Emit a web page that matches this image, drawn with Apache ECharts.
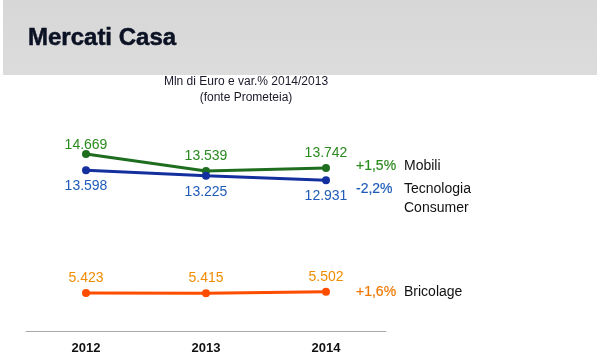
<!DOCTYPE html>
<html>
<head>
<meta charset="utf-8">
<script src="https://cdn.jsdelivr.net/npm/echarts@6/dist/echarts.min.js"></script>
<style>html,body{margin:0;padding:0;background:#fff}#c{width:600px;height:360px}</style>
</head>
<body>
<div id="c"></div>
<script>
const categories = ['2012', '2013', '2014'];
const mobili = [14669, 13539, 13742];
const tecnologia = [13598, 13225, 12931];
const bricolage = [5423, 5415, 5502];
const changes = ['+1,5%', '-2,2%', '+1,6%'];
const seriesNames = ['Mobili', 'Tecnologia Consumer', 'Bricolage'];
const titleText = 'Mercati Casa';
const subtitleText = 'Mln di Euro e var.% 2014/2013\n(fonte Prometeia)';

const FONT = 'Liberation Sans, Arial, sans-serif';
const fmt = v => v.toLocaleString('de-DE');

function makeSeries(name, data, lineColor, labelColor, pctColor, pos, pct, endOffset, twoLine, firstOffset) {
  return {
    name: name,
    type: 'line',
    data: data.map((v, i) => (i === 0 && firstOffset) ? { value: v, label: { offset: firstOffset } } : v),
    symbol: 'circle',
    symbolSize: 8,
    lineStyle: { color: lineColor, width: 3 },
    itemStyle: { color: lineColor },
    label: {
      show: true, position: pos, distance: pos === 'top' ? 4 : 5,
      color: labelColor, fontFamily: FONT, fontSize: 14,
      formatter: p => fmt(p.value)
    },
    endLabel: {
      show: true, distance: 30, offset: endOffset,
      fontFamily: FONT, fontSize: 14,
      formatter: () => {
        const parts = name.split(' ');
        if (twoLine) return '{p|' + pct + '}{n|' + parts[0] + '}\n{s|}{n|' + parts[1] + '}';
        return '{p|' + pct + '}{n|' + name + '}';
      },
      rich: {
        p: { color: pctColor, fontFamily: FONT, fontSize: 14, width: 48, lineHeight: 19,
             textBorderColor: pctColor, textBorderWidth: 0.2 },
        n: { color: '#111', fontFamily: FONT, fontSize: 14, lineHeight: 19 },
        s: { width: 48, lineHeight: 19 }
      }
    },
    animation: false
  };
}

const chart = echarts.init(document.getElementById('c'), null, { renderer: 'canvas' });
chart.setOption({
  animation: false,
  backgroundColor: '#ffffff',
  graphic: [{
    type: 'rect', left: 3, top: 0, z: -10,
    shape: { width: 594, height: 75 },
    style: {
      fill: new echarts.graphic.LinearGradient(0, 0, 0, 1, [
        { offset: 0, color: '#d7d7d7' }, { offset: 1, color: '#dcdcdc' }
      ])
    }
  }],
  title: [{
    text: titleText, left: 23, top: 21,
    textStyle: { fontFamily: FONT, fontSize: 24, fontWeight: 'bold', color: '#0b1224',
                 textBorderColor: '#0b1224', textBorderWidth: 0.5 }
  }, {
    text: subtitleText, left: 241, top: 69, textAlign: 'center',
    textStyle: { fontFamily: FONT, fontSize: 12, fontWeight: 'normal', color: '#1a1a2a', lineHeight: 16 }
  }],
  grid: { left: 26, right: 214, top: 131, bottom: 29 },
  xAxis: {
    type: 'category', data: categories, boundaryGap: true,
    axisLine: { lineStyle: { color: '#aaaaaa', width: 1 } },
    axisTick: { show: false },
    axisLabel: { color: '#111', fontFamily: FONT, fontSize: 13, fontWeight: 'bold', margin: 11 }
  },
  yAxis: { type: 'value', min: 2900, max: 16200, show: false, splitLine: { show: false } },
  series: [
    makeSeries(seriesNames[0], mobili, '#1f6e1f', '#2a8a1e', '#2a8a1e', 'top', changes[0], [0, -2], false, [0, 6]),
    makeSeries(seriesNames[1], tecnologia, '#13309e', '#1f5cb8', '#1f5cb8', 'bottom', changes[1], [0, 18], true, null),
    makeSeries(seriesNames[2], bricolage, '#ff4d00', '#f08c00', '#f07800', 'top', changes[2], [0, 0], false, null)
  ]
});
</script>
</body>
</html>
